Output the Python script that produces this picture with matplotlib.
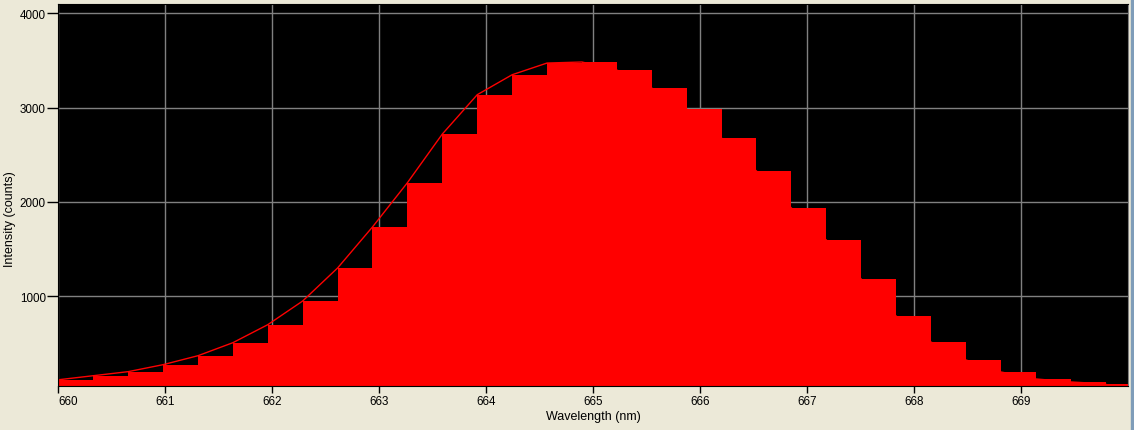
import matplotlib
matplotlib.use("Agg")
import matplotlib.pyplot as plt
from matplotlib.patches import Rectangle
import numpy as np

# spectrum samples (left edge of each bin, counts)
wl_start = 660.0
wl_step = 0.3265
counts = [115, 158, 201, 275, 370, 508, 699, 950, 1300, 1735, 2204,
          2720, 3137, 3349, 3473, 3484, 3399, 3208, 2985, 2678, 2328,
          1936, 1597, 1183, 791, 515, 325, 198, 124, 92, 71]
wavelength = wl_start + wl_step * np.arange(len(counts))

x_ticks = list(range(660, 670))
y_ticks = [1000, 2000, 3000, 4000]

bg = "#ECE9D8"
grid_col = "#808080"

plt.rcParams["font.family"] = ["Liberation Sans", "DejaVu Sans"]

fig = plt.figure(figsize=(11.34, 4.31), dpi=100, facecolor=bg)
ax = fig.add_axes([58.3 / 1134, 44 / 431, 1069.2 / 1134, 382 / 431])
ax.set_facecolor("black")

# curve sits under the bars, so only the part above them shows
ax.plot(wavelength, counts, color="#FF0000", linewidth=1.0, zorder=1.5)
ax.bar(wavelength, counts, width=wl_step, align="edge", color="#FF0000",
       linewidth=0, zorder=2)

ax.set_xlim(660, 670)
ax.set_ylim(49, 4099)
ax.set_xticks(x_ticks)
ax.set_yticks(y_ticks)
ax.set_axisbelow(True)
ax.grid(True, color=grid_col, linewidth=1)

ax.tick_params(axis="x", length=5, width=1, pad=1.5, labelsize=8.4, colors="black")
ax.tick_params(axis="y", length=8, width=1, pad=1, labelsize=8.4, colors="black")
ax.get_xticklabels()[0].set_horizontalalignment("left")

for side in ["left", "bottom", "top"]:
    ax.spines[side].set_color("black")
ax.spines["right"].set_color(grid_col)

ax.set_xlabel("Wavelength (nm)", fontsize=9, labelpad=2.5)
ax.set_ylabel("Intensity (counts)", fontsize=9)
ax.yaxis.set_label_coords(-0.0396, 0.44)

# window border strip on the right
fig.patches.append(Rectangle((1131 / 1134, 0), 3 / 1134, 1, transform=fig.transFigure,
                             color="#7F9DB9", zorder=0))

fig.savefig("out.png", dpi=100, facecolor=bg)
